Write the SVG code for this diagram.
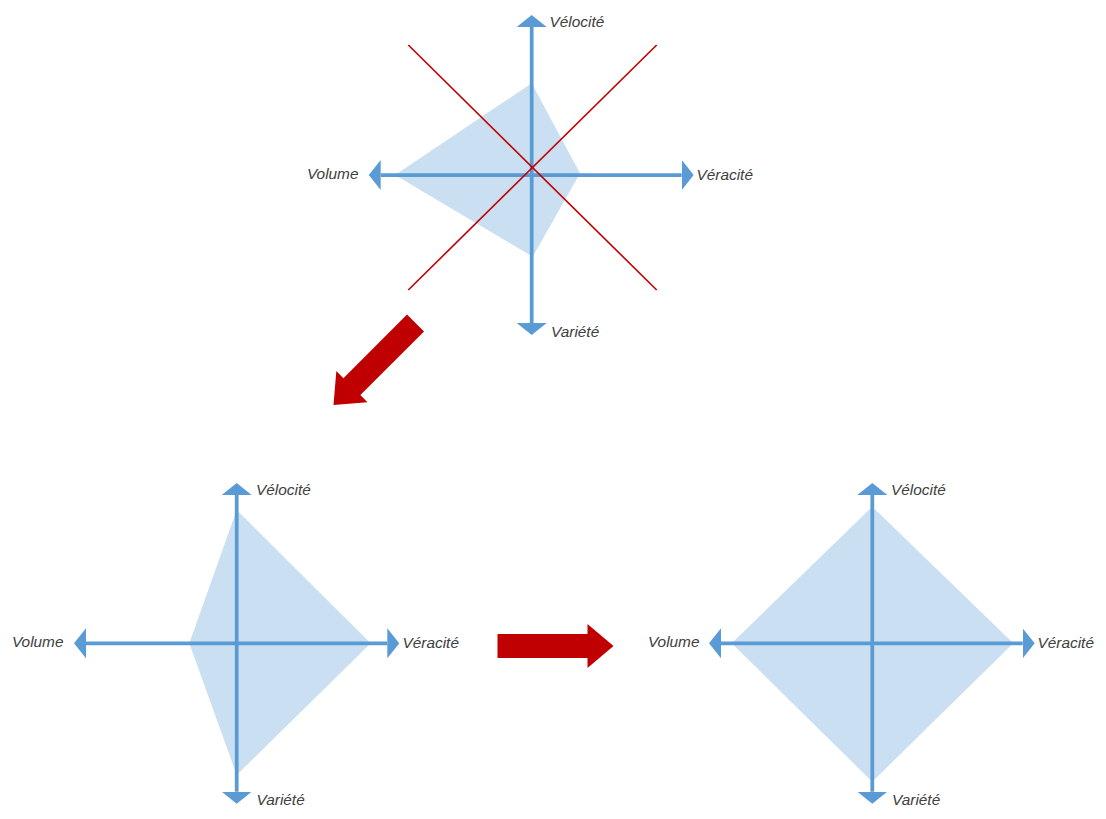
<svg xmlns="http://www.w3.org/2000/svg" width="1106" height="819" viewBox="0 0 1106 819">
<style>
.axis{stroke:#5B9BD5;stroke-width:3.75;fill:none;marker-start:url(#head);marker-end:url(#head)}
.area{fill:#5B9BD5;fill-opacity:0.32;stroke:none}
.cross{stroke:#C00000;stroke-width:1.6}
.lbl{font-family:"Liberation Sans",Arial,sans-serif;font-style:italic;font-size:15.4px;fill:#404040}
.end{text-anchor:end}
.big{fill:#C00000}
</style>
<defs>
<marker id="head" viewBox="0 0 12 30" refX="0" refY="15" markerWidth="12" markerHeight="30" markerUnits="userSpaceOnUse" orient="auto-start-reverse">
<path d="M0,0 L12,15 L0,30 Z" fill="#5B9BD5"/>
</marker>
<path id="bigArrow" d="M-116,-12 L-26,-12 L-26,-22 L0,0 L-26,22 L-26,12 L-116,12 Z"/>
</defs>

<g id="top-chart">
<g id="top-axes">
<line class="axis" x1="380.7" y1="175" x2="681.7" y2="175"/>
<line class="axis" x1="531.7" y1="323" x2="531.7" y2="27"/>
</g>
<polygon class="area" points="531.7,83.3 580,173.3 532.7,256.7 395,175"/>
<g id="top-cross">
<line class="cross" x1="408.3" y1="45" x2="656.7" y2="290"/>
<line class="cross" x1="656.7" y1="45" x2="408.3" y2="290"/>
</g>
<text class="lbl" x="549.5" y="26.5">Vélocité</text>
<text class="lbl" x="696.5" y="180">Véracité</text>
<text class="lbl" x="551" y="337">Variété</text>
<text class="lbl end" x="358.5" y="178.5">Volume</text>
</g>

<g id="bottom-left-chart">
<g id="bl-axes">
<line class="axis" x1="86" y1="643.3" x2="387.3" y2="643.3"/>
<line class="axis" x1="236.7" y1="791.7" x2="236.7" y2="495"/>
</g>
<polygon class="area" points="236.7,510 370.7,643.3 236.7,775 189.3,643.3"/>
<text class="lbl" x="256" y="495">Vélocité</text>
<text class="lbl" x="402.5" y="647.5">Véracité</text>
<text class="lbl" x="256.5" y="804.5">Variété</text>
<text class="lbl end" x="63.5" y="647">Volume</text>
</g>

<g id="bottom-right-chart">
<g id="br-axes">
<line class="axis" x1="721" y1="643.3" x2="1022.7" y2="643.3"/>
<line class="axis" x1="872.3" y1="791.7" x2="872.3" y2="495"/>
</g>
<polygon class="area" points="872.3,506.7 1013.3,643.3 872.3,781.7 731.7,643.3"/>
<text class="lbl" x="891" y="495">Vélocité</text>
<text class="lbl" x="1037.5" y="647.5">Véracité</text>
<text class="lbl" x="892" y="804.5">Variété</text>
<text class="lbl end" x="699.5" y="647">Volume</text>
</g>

<g id="connectors">
<use href="#bigArrow" class="big" transform="translate(333.5,405) rotate(135)"/>
<use href="#bigArrow" class="big" transform="translate(613.5,646)"/>
</g>
</svg>
